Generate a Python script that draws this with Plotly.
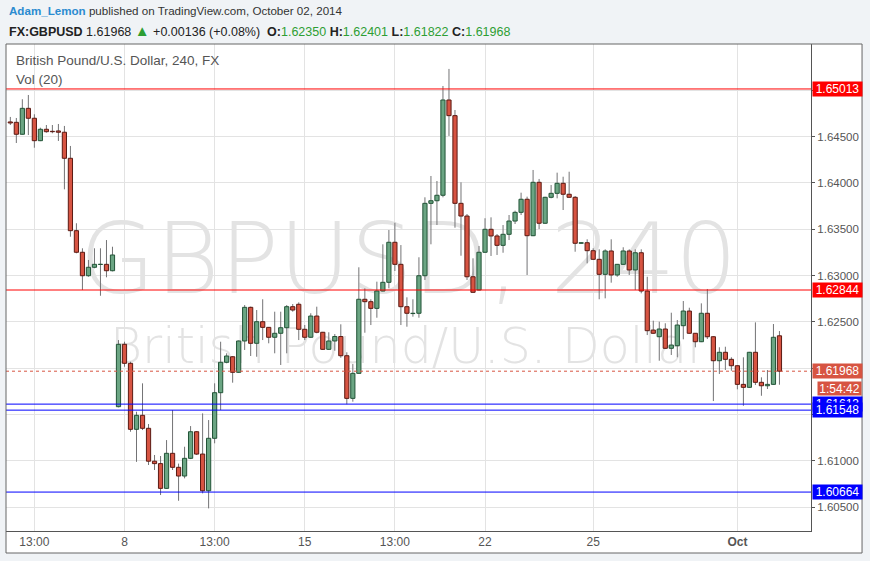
import plotly.graph_objects as go

# ---- data (4h candles, FX:GBPUSD) ----
opens = [1.64657, 1.64653, 1.64524, 1.64804, 1.64697, 1.64455, 1.64578, 1.64556, 1.64560, 1.64546,
         1.64265, 1.63484, 1.63251, 1.62998, 1.63089, 1.63119, 1.63121, 1.63052, 1.61585, 1.62258,
         1.62053, 1.61341, 1.61492, 1.61352, 1.60997, 1.60971, 1.60704, 1.61082, 1.60931, 1.60837,
         1.61028, 1.61315, 1.61074, 1.60678, 1.61244, 1.61736, 1.62064, 1.62124, 1.61956, 1.62294,
         1.62657, 1.62269, 1.62502, 1.62441, 1.62334, 1.62377, 1.62437, 1.62664, 1.62690, 1.62420,
         1.62334, 1.62563, 1.62388, 1.62204, 1.62294, 1.62342, 1.62135, 1.61675, 1.61945, 1.62744,
         1.62718, 1.62646, 1.62833, 1.62927, 1.63359, 1.63121, 1.62664, 1.62590, 1.62593, 1.62998,
         1.63779, 1.63807, 1.63866, 1.64894, 1.64725, 1.63779, 1.63642, 1.62987, 1.62844, 1.63251,
         1.63499, 1.63427, 1.63326, 1.63445, 1.63588, 1.63682, 1.63823, 1.63430, 1.64006, 1.63564,
         1.63844, 1.63887, 1.63995, 1.63877, 1.63844, 1.63348, 1.63354, 1.63268, 1.63175, 1.63013,
         1.63265, 1.63006, 1.63121, 1.63265, 1.63060, 1.63246, 1.62833, 1.62412, 1.62340, 1.62423,
         1.62215, 1.62243, 1.62459, 1.62617, 1.62377, 1.62286, 1.62593, 1.62340, 1.62081, 1.62172,
         1.62096, 1.62027, 1.61826, 1.61794, 1.62172, 1.61848, 1.61811, 1.61826, 1.62350]
highs = [1.64711, 1.64700, 1.64902, 1.64948, 1.64740, 1.64595, 1.64624, 1.64624, 1.64635, 1.64614,
         1.64398, 1.63564, 1.63294, 1.63168, 1.63294, 1.63294, 1.63383, 1.63311, 1.62304, 1.62286,
         1.62070, 1.61531, 1.61837, 1.61398, 1.61064, 1.61053, 1.61225, 1.61549, 1.60971, 1.61153,
         1.61376, 1.61322, 1.61513, 1.61441, 1.61837, 1.62286, 1.62161, 1.62130, 1.62300, 1.62682,
         1.62665, 1.62628, 1.62744, 1.62445, 1.62610, 1.62610, 1.62682, 1.62693, 1.62711, 1.62466,
         1.62593, 1.62664, 1.62392, 1.62388, 1.62369, 1.62474, 1.62172, 1.62045, 1.63089, 1.62862,
         1.62744, 1.62934, 1.63337, 1.63491, 1.63570, 1.63329, 1.62765, 1.62744, 1.63197, 1.63844,
         1.64074, 1.64020, 1.65045, 1.65229, 1.64786, 1.64006, 1.63664, 1.63186, 1.63319, 1.63618,
         1.63628, 1.63448, 1.63545, 1.63653, 1.63700, 1.63894, 1.63851, 1.64139, 1.64042, 1.63850,
         1.63977, 1.64110, 1.64066, 1.64120, 1.63858, 1.63359, 1.63391, 1.63294, 1.63283, 1.63283,
         1.63391, 1.63125, 1.63305, 1.63283, 1.63283, 1.63283, 1.62987, 1.62513, 1.62502, 1.62485,
         1.62599, 1.62520, 1.62725, 1.62653, 1.62380, 1.62700, 1.62855, 1.62345, 1.62226, 1.62232,
         1.62118, 1.62030, 1.62118, 1.62176, 1.62495, 1.61902, 1.61981, 1.62477, 1.62401]
lows = [1.64624, 1.64430, 1.64520, 1.64516, 1.64379, 1.64450, 1.64541, 1.64535, 1.64452, 1.63930,
        1.63419, 1.63240, 1.62844, 1.62987, 1.63078, 1.62782, 1.62981, 1.63045, 1.61578, 1.62016,
        1.61315, 1.60990, 1.61333, 1.60956, 1.60902, 1.60632, 1.60698, 1.60902, 1.60570, 1.60812,
        1.61020, 1.61064, 1.60650, 1.60488, 1.61190, 1.61549, 1.62053, 1.61844, 1.61950, 1.62197,
        1.62132, 1.62124, 1.62304, 1.62269, 1.62161, 1.62035, 1.62161, 1.62610, 1.62304, 1.62304,
        1.62328, 1.62377, 1.62197, 1.62197, 1.62189, 1.62113, 1.61611, 1.61639, 1.61940, 1.62383,
        1.62466, 1.62545, 1.62828, 1.62862, 1.63049, 1.62466, 1.62448, 1.62556, 1.62545, 1.62952,
        1.63337, 1.63545, 1.63844, 1.64506, 1.63516, 1.63214, 1.62952, 1.62815, 1.62838, 1.63245,
        1.63211, 1.63222, 1.63246, 1.63383, 1.63556, 1.63653, 1.63006, 1.63425, 1.63502, 1.63558,
        1.63833, 1.63833, 1.63707, 1.63840, 1.63257, 1.63345, 1.63132, 1.63170, 1.62744, 1.62754,
        1.62923, 1.62987, 1.63118, 1.63006, 1.62844, 1.62808, 1.62358, 1.62373, 1.62081, 1.62210,
        1.62143, 1.62118, 1.62312, 1.62373, 1.62226, 1.62282, 1.62315, 1.61646, 1.61938, 1.61981,
        1.61973, 1.61772, 1.61595, 1.61790, 1.61819, 1.61703, 1.61776, 1.61822, 1.61822]
closes = [1.64646, 1.64524, 1.64804, 1.64697, 1.64455, 1.64578, 1.64552, 1.64552, 1.64546, 1.64265,
          1.63484, 1.63251, 1.62998, 1.63089, 1.63121, 1.63121, 1.63052, 1.63222, 1.62258, 1.62053,
          1.61341, 1.61492, 1.61352, 1.60997, 1.60971, 1.60704, 1.61082, 1.60931, 1.60837, 1.61028,
          1.61315, 1.61074, 1.60678, 1.61244, 1.61736, 1.62064, 1.62132, 1.61956, 1.62294, 1.62657,
          1.62269, 1.62502, 1.62441, 1.62334, 1.62377, 1.62437, 1.62664, 1.62628, 1.62420, 1.62334,
          1.62563, 1.62388, 1.62204, 1.62294, 1.62342, 1.62135, 1.61675, 1.61945, 1.62744, 1.62718,
          1.62646, 1.62833, 1.62927, 1.63359, 1.63121, 1.62664, 1.62593, 1.62593, 1.62998, 1.63779,
          1.63807, 1.63866, 1.64894, 1.64725, 1.63779, 1.63642, 1.62987, 1.62819, 1.63251, 1.63499,
          1.63427, 1.63326, 1.63445, 1.63588, 1.63682, 1.63823, 1.63430, 1.64006, 1.63564, 1.63844,
          1.63887, 1.63995, 1.63877, 1.63844, 1.63348, 1.63354, 1.63268, 1.63175, 1.63013, 1.63265,
          1.63006, 1.63121, 1.63265, 1.63060, 1.63246, 1.62833, 1.62405, 1.62377, 1.62423, 1.62215,
          1.62250, 1.62466, 1.62617, 1.62377, 1.62286, 1.62593, 1.62340, 1.62081, 1.62172, 1.62096,
          1.62027, 1.61826, 1.61794, 1.62172, 1.61848, 1.61811, 1.61826, 1.62334, 1.61968]

time_tick_index = [4, 19, 34, 49, 64, 79, 97, 121]
time_tick_labels = ["13:00", "8", "13:00", "15", "13:00", "22", "25", "<b>Oct</b>"]
price_ticks = [1.605, 1.610, 1.615, 1.620, 1.625, 1.630, 1.635, 1.640, 1.645, 1.650]
hidden_price_ticks = [1.615, 1.650]   # covered by level labels in the original
red_levels = [1.65013, 1.62844]
blue_levels = [1.61613, 1.61548, 1.60664]
countdown = "1:54:42"
change_text = "+0.00136 (+0.08%)"

# ---- styles ----
UP_FILL, UP_LINE = "#6ba583", "#225437"
DN_FILL, DN_LINE = "#d75442", "#5b1a13"
WICK = "#737375"
GRID = "#e3e3e3"
AXIS = "#555555"
FONT = "Liberation Sans"
GREEN_TXT = "#2e9e33"

n = len(opens)
xs = list(range(n))
x_range = [-0.72, 133.25]
y_range = [1.60244, 1.65498]

up = [c >= o for o, c in zip(opens, closes)]
bases = [min(o, c) for o, c in zip(opens, closes)]
heights = [max(abs(c - o), 0.00003) for o, c in zip(opens, closes)]
fills = [UP_FILL if u else DN_FILL for u in up]
borders = [UP_LINE if u else DN_LINE for u in up]

wx, wy = [], []
for i in xs:
    wx += [i, i, None]
    wy += [lows[i], highs[i], None]

fig = go.Figure()

# watermark (below candles)
mid_x = (x_range[0] + x_range[1]) / 2
fig.add_trace(go.Scatter(
    x=[mid_x], y=[y_range[0] + 0.538 * (y_range[1] - y_range[0])],
    mode="text", text=["GBPUSD, 240"], hoverinfo="skip", showlegend=False,
    textfont=dict(family="DejaVu Sans", size=98, color="#e3e3e3", weight=200)))
fig.add_trace(go.Scatter(
    x=[mid_x], y=[y_range[0] + 0.3696 * (y_range[1] - y_range[0])],
    mode="text", text=["British Pound/U.S. Dollar"], hoverinfo="skip", showlegend=False,
    textfont=dict(family="DejaVu Sans", size=49, color="#e3e3e3", weight=200)))

# wicks
fig.add_trace(go.Scatter(x=wx, y=wy, mode="lines", line=dict(color=WICK, width=1),
                         hoverinfo="skip", showlegend=False))

# bodies on overlay axis (drawn above wicks & watermark)
fig.add_trace(go.Bar(x=xs, y=heights, base=bases, width=0.7, yaxis="y2",
                     marker=dict(color=fills, line=dict(color=borders, width=1)),
                     hoverinfo="skip", showlegend=False))

shapes = []
shapes.append(dict(type="rect", xref="paper", yref="paper", x0=0, x1=1.0634, y0=-0.0452, y1=1,
                   fillcolor="white", line=dict(width=0), layer="below"))
for lv in red_levels:
    shapes.append(dict(type="line", xref="paper", yref="y", x0=0, x1=1, y0=lv, y1=lv,
                       line=dict(color="#ff0000", width=1), layer="above"))
for lv in blue_levels:
    shapes.append(dict(type="line", xref="paper", yref="y", x0=0, x1=1, y0=lv, y1=lv,
                       line=dict(color="#0000ff", width=1), layer="above"))
last_price = closes[-1]
last_col = UP_FILL if up[-1] else DN_FILL
shapes.append(dict(type="line", xref="paper", yref="y", x0=0, x1=1, y0=last_price, y1=last_price,
                   line=dict(color=last_col, width=1, dash="dot"), layer="above"))
shapes.append(dict(type="rect", xref="paper", yref="paper", x0=0, x1=1.0634, y0=-0.0452, y1=1,
                   fillcolor="rgba(0,0,0,0)", line=dict(color="#666666", width=1), layer="above"))

ann = []
ann.append(dict(xref="paper", yref="paper", x=0, y=1.0678, xanchor="left", yanchor="middle",
                xshift=1, showarrow=False,
                text='<span style="color:#2b8bd0"><b>Adam_Lemon</b></span> published on TradingView.com, October 02, 2014',
                font=dict(family=FONT, size=11.6, color="#333333")))
hdr = (f'<b>FX:GBPUSD</b> {last_price:.5f} <span style="color:{GREEN_TXT};font-size:15px">▲</span> {change_text}  '
       f'<b>O:</b><span style="color:{GREEN_TXT}">{opens[-1]:.5f}</span> '
       f'<b>H:</b><span style="color:{GREEN_TXT}">{highs[-1]:.5f}</span> '
       f'<b>L:</b><span style="color:{GREEN_TXT}">{lows[-1]:.5f}</span> '
       f'<b>C:</b><span style="color:{GREEN_TXT}">{closes[-1]:.5f}</span>')
ann.append(dict(xref="paper", yref="paper", x=0, y=1.0287, xanchor="left", yanchor="middle",
                xshift=1, showarrow=False, text=hdr,
                font=dict(family=FONT, size=12.5, color="#222222")))
ann.append(dict(xref="paper", yref="paper", x=0, y=0.9671, xanchor="left", yanchor="middle",
                xshift=8, showarrow=False, text="British Pound/U.S. Dollar, 240, FX",
                font=dict(family=FONT, size=13.5, color="#555555")))
ann.append(dict(xref="paper", yref="paper", x=0, y=0.9261, xanchor="left", yanchor="middle",
                xshift=8, showarrow=False, text="Vol (20)",
                font=dict(family=FONT, size=13.5, color="#555555")))

def price_label(v, col, yshift=0):
    return dict(xref="paper", yref="y", x=1, y=v, xanchor="left", yanchor="middle",
                xshift=0.5, yshift=yshift, showarrow=False, text=f"{v:.5f}",
                bgcolor=col, width=47, height=12, borderpad=1,
                font=dict(family=FONT, size=12, color="white"))

for lv in red_levels:
    ann.append(price_label(lv, "#ff0000"))
for lv in blue_levels:
    ann.append(price_label(lv, "#0000ff"))
ann.append(price_label(last_price, last_col))
ann.append(dict(xref="paper", yref="y", x=1, y=last_price, xanchor="left", yanchor="middle",
                xshift=6, yshift=-17, showarrow=False, text=countdown,
                bgcolor=last_col, width=41, height=11, borderpad=1,
                font=dict(family=FONT, size=12, color="white")))

fig.update_layout(
    width=870, height=561, autosize=False,
    margin=dict(l=6, r=59, t=44, b=30),
    paper_bgcolor="#f0f3f6", plot_bgcolor="white",
    hovermode=False, showlegend=False, barmode="overlay",
    shapes=shapes, annotations=ann,
    xaxis=dict(range=x_range, tickmode="array", tickvals=time_tick_index, ticktext=time_tick_labels,
               showgrid=True, gridcolor=GRID, zeroline=False, showline=True, linecolor=AXIS,
               linewidth=1, ticks="", tickfont=dict(family=FONT, size=12, color=AXIS), fixedrange=True),
    yaxis=dict(range=y_range, side="right", tickmode="array", tickvals=price_ticks,
               ticktext=["" if v in hidden_price_ticks else f"{v:.5f}" for v in price_ticks],
               showgrid=True, gridcolor=GRID,
               zeroline=False, showline=True, linecolor=AXIS, linewidth=1, ticks="outside",
               ticklen=3, tickcolor=AXIS, tickfont=dict(family=FONT, size=11.5, color=AXIS),
               fixedrange=True),
    yaxis2=dict(range=y_range, overlaying="y", visible=False, fixedrange=True),
)

fig.write_html("out.html", config={"displayModeBar": False},
               post_script="document.body.style.margin='0';")
